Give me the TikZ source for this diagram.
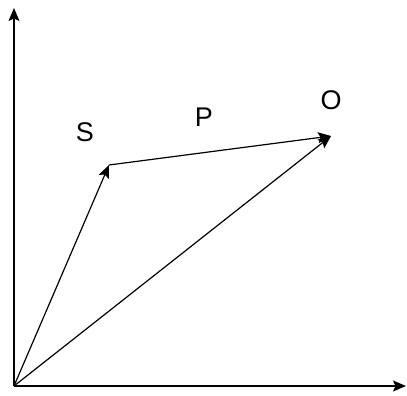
\documentclass[tikz,border=0pt]{standalone}
\usepackage{fontspec}
\setmainfont{Liberation Sans}
\usetikzlibrary{arrows.meta}
\tikzset{
  vecarrow/.style={-{Stealth[length=13pt,width=11pt,inset=2.5pt]},draw=black,line width=1.2pt},
  veclabel/.style={font=\fontsize{27}{31}\selectfont,inner sep=0pt}
}
\begin{document}
\begin{tikzpicture}[x=1pt,y=-1pt]
  \useasboundingbox (0,0) rectangle (407,396);
  \coordinate (orig) at (14,386);
  \coordinate (ytop) at (14,8);
  \coordinate (xend) at (406,386);
  \coordinate (ptS)  at (109,165);
  \coordinate (ptO)  at (331,136);

  % axes
  \draw[vecarrow] (orig) -- (ytop);
  \draw[vecarrow] (orig) -- (xend);

  % vectors
  \draw[vecarrow] (orig) -- (ptS);
  \draw[vecarrow] (orig) -- (ptO);
  \draw[vecarrow] (ptS) -- (ptO);

  \node[veclabel] (labS) at (85,132) {S};
  \node[veclabel] (labP) at (204,117.5) {P};
  \node[veclabel] (labO) at (331,100.5) {O};
\end{tikzpicture}
\end{document}
